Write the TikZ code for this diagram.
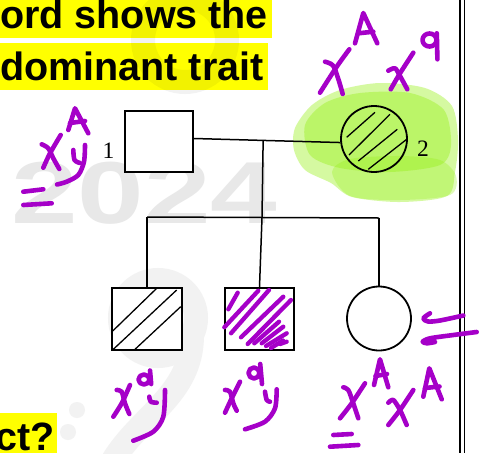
\documentclass[tikz,border=0pt]{standalone}
\usepackage{fontspec}
\setmainfont{Liberation Serif}
\newfontfamily\qfont{Liberation Sans}
\definecolor{ink}{RGB}{165,0,200}
\definecolor{hilite}{RGB}{255,255,0}
\definecolor{lime}{RGB}{150,240,20}
\definecolor{wmgray}{RGB}{232,232,232}
\definecolor{wmlight}{RGB}{242,242,242}
\tikzset{
  ped/.style={draw=black, line width=1.5pt},
  male/.style={ped, line width=1.8pt, rectangle, fill=white, inner sep=0pt},
  female/.style={ped, line width=1.8pt, circle, inner sep=0pt},
  hatchline/.style={draw=black, line width=1.3pt},
  pen/.style={draw=ink, line width=4.6pt, line cap=round, line join=round},
  scribble/.style={draw=ink, line width=4.3pt, line cap=round},
  blob/.style={fill=lime, fill opacity=0.4, draw=none},
  qtext/.style={font=\qfont\bfseries\fontsize{39.5}{40}\selectfont, anchor=base west, inner sep=0pt},
  idlabel/.style={font=\fontsize{23.5}{24}\selectfont, inner sep=0pt},
}
\begin{document}
\begin{tikzpicture}[x=1pt,y=-1pt]
\useasboundingbox (0,0) rectangle (484,453);
\fill[white] (0,0) rectangle (484,453);

% faint watermark
\node[font=\qfont\bfseries\fontsize{88}{88}\selectfont, text=wmgray, anchor=base west, inner sep=0pt, xscale=1.36] (wm) at (11,223) {2024};
\draw[wmlight, line width=24pt] (158,318) circle (38);
\draw[wmlight, line width=24pt, line cap=round]
  (192,335) .. controls (192,395) and (140,415) .. (112,462);
\fill[wmlight] (77,410) circle (8) (68,432) circle (8);

% green highlight round individual 2
\fill[blob] plot[smooth cycle] coordinates {(295,128)(312,105)(340,90)(380,83)(425,88)(452,106)(458,140)(455,172)(447,196)(400,202)(352,197)(331,183)(305,170)(294,150)};
\fill[blob] plot[smooth cycle] coordinates {(305,125)(325,103)(360,93)(410,93)(444,110)(451,145)(440,165)(390,172)(340,168)(310,155)};
\fill[blob, fill opacity=0.3] plot[smooth cycle] coordinates {(332,172)(350,159)(400,156)(440,160)(456,176)(450,195)(400,200)(350,196)};

% highlighted question text
\fill[hilite] (0,0) rectangle (272,38);
\fill[hilite] (0,43) rectangle (268,90);
\fill[hilite] (0,413) rectangle (57,453);
\draw[black, opacity=0.05, line width=24pt] (185,40) circle (42);
\node[qtext] (q1) at (0,28) {ord shows the};
\node[qtext] (q2) at (0,80) {dominant trait};
\node[qtext] (q3) at (-5,450.5) {ct?};

% page border
\draw[black, line width=1.6pt] (460,0) -- (460,453);
\draw[black, line width=1.6pt] (464.5,0) -- (464.5,453);

% pedigree
\node[male, minimum width=68pt, minimum height=61pt] (father) at (159,141.5) {};
\node[female, minimum size=66pt] (mother) at (374,139) {};
\node[male, minimum width=70pt, minimum height=62pt] (son1) at (147,319) {};
\node[male, minimum width=69pt, minimum height=62pt] (son2) at (259.5,319) {};
\node[female, fill=white, minimum size=64pt] (daughter) at (379,318.5) {};
\node[idlabel] (id1) at (108.5,151) {1};
\node[idlabel] (id2) at (423,148.5) {2};

\draw[ped] ([yshift=3pt]father.east) -- (mother.186) coordinate[pos=0.473] (mj);
\coordinate (sj) at (262,217.5);
\coordinate (sl) at (147,217);
\coordinate (sr) at (379,218);
\draw[ped] (mj) -- (sj);
\draw[ped] (sl) -- (sr);
\draw[ped] (sl) -- (son1.north);
\draw[ped] (sj) -- (son2.north);
\draw[ped] (sr) -- (daughter.north);

% hatching of the affected individuals
\draw[hatchline] (346.7,137.3) -- (375,112.3);
\draw[hatchline] (349,155) -- (390,114.3);
\draw[hatchline] (358.3,161) -- (397.3,129.3);
\draw[hatchline] (368.3,169.3) -- (406.7,139.3);
\draw[hatchline] (112.7,331) -- (156.7,288.3);
\draw[hatchline] (113.3,349.3) -- (176.7,290);
\draw[hatchline] (135,349.3) -- (180.7,306.7);

% pen shading of son 2
\draw[scribble] (228.3,309.3) -- (237.7,292.7);
\draw[scribble] (224.3,327.3) -- (258.3,290.7);
\draw[scribble] (231,333.3) -- (269,290);
\draw[scribble] (241,337.3) -- (283.3,296.7);
\draw[scribble] (247.7,344) -- (291,300);
\draw[scribble] (254.3,343.3) -- (279,321.7);
\draw[scribble] (261.7,343.3) -- (283.3,326.7);
\draw[scribble] (266,346) -- (286.7,333.3);
\draw[scribble] (271,348) -- (283,340.5);
\draw[scribble] (280,344) -- (286.7,341.7);

% genotypes written by hand
% X^A X^a above individual 2
\draw[pen] plot[smooth] coordinates {(349.3,49.3)(336.7,66.7)(320,92.7)};
\draw[pen] plot[smooth] coordinates {(325,61.7)(333,65.5)(338.3,79)(342.7,94)};
\draw[pen] (355,43.3) -- (363.3,13) -- (377.3,43.3);
\draw[pen] (358.3,33.3) -- (373.3,31.7);
\draw[pen] plot[smooth] coordinates {(413.3,52.7)(400,73.3)(390.7,89.3)};
\draw[pen] plot[smooth] coordinates {(388.3,70.7)(395,68.3)(400,76)(407.3,89.3)};
\draw[pen] (429.5,40) ellipse [x radius=7, y radius=6.5];
\draw[pen] (436.8,33.3) -- (437.4,59.3);

% X^A y beside individual 1
\draw[pen] plot[smooth] coordinates {(60.7,135)(50,153.3)(43.3,167.7)};
\draw[pen] plot[smooth] coordinates {(41.7,144.3)(48.3,148.3)(53.3,158.3)(59.3,169)};
\draw[pen] (68.3,130) -- (75,108.3) -- (88.3,133.3);
\draw[pen] (70,123) -- (85,121);
\draw[pen] plot[smooth] coordinates {(73.3,150)(74.5,160)(80,163)};
\draw[pen] plot[smooth] coordinates {(85,145)(84,161.7)(78.3,175)(66.7,181.7)(57,184.5)};
\draw[pen] (23.3,191.7) -- (43.3,189.3);
\draw[pen] (23.3,205) -- (51.7,203.3);

% X^a y under son 1
\draw[pen] plot[smooth] coordinates {(130,385)(121.7,403.3)(113.3,416.7)};
\draw[pen] plot[smooth] coordinates {(116.7,390)(121.7,391.7)(125,403.3)(129.3,414)};
\draw[pen] (144,379.5) ellipse [x radius=5.5, y radius=5];
\draw[pen] (150,370.5) -- (151.2,384);
\draw[pen] plot[smooth] coordinates {(149.3,396.7)(150.7,401.7)(156.7,402.7)};
\draw[pen] plot[smooth] coordinates {(165,390)(163.3,416.7)(153.3,431.7)(133.3,440.7)};

% X^a y under son 2
\draw[pen] plot[smooth] coordinates {(240,381.7)(231.7,398.3)(225,412.7)};
\draw[pen] plot[smooth] coordinates {(225,390)(230,391.7)(233.3,403.3)(236.7,410.7)};
\draw[pen] (254,373) ellipse [x radius=5.5, y radius=5.5];
\draw[pen] (260.2,364) -- (262,384);
\draw[pen] plot[smooth] coordinates {(265,391.7)(266.7,400)(270,401.7)};
\draw[pen] plot[smooth] coordinates {(276.7,389.3)(275,408.3)(265,421.7)(245,429.3)};

% X^A X^A under the daughter
\draw[pen] plot[smooth] coordinates {(365,383.3)(351.7,403.3)(340,418.3)};
\draw[pen] plot[smooth] coordinates {(343.3,387.3)(348.3,390)(353.3,403.3)(358.3,418.3)};
\draw[pen] (374,385) -- (380,359.3) -- (388.3,387.3);
\draw[pen] (375.5,376) -- (387,374);
\draw[pen] plot[smooth] coordinates {(413.3,390)(400,410)(388.3,425)};
\draw[pen] plot[smooth] coordinates {(388.3,402.7)(393.3,400)(400,410)(406.7,425)};
\draw[pen] (423.3,396.7) -- (429.3,368.3) -- (441.7,399.3);
\draw[pen] (425,388) -- (439.5,386.5);
\draw[pen] (333.3,435) -- (351.7,434);
\draw[pen] (330,446.7) -- (358.3,445);

% equals mark beside the daughter
\draw[pen] plot[smooth] coordinates {(430,313.3)(423.3,318.3)(428,321.5)(440,320.5)(463.3,315.5)};
\draw[pen] plot[smooth] coordinates {(476.7,332)(453.3,335)(430,338.3)(422.7,341.7)(427,343.3)(435,342)};
\end{tikzpicture}
\end{document}
